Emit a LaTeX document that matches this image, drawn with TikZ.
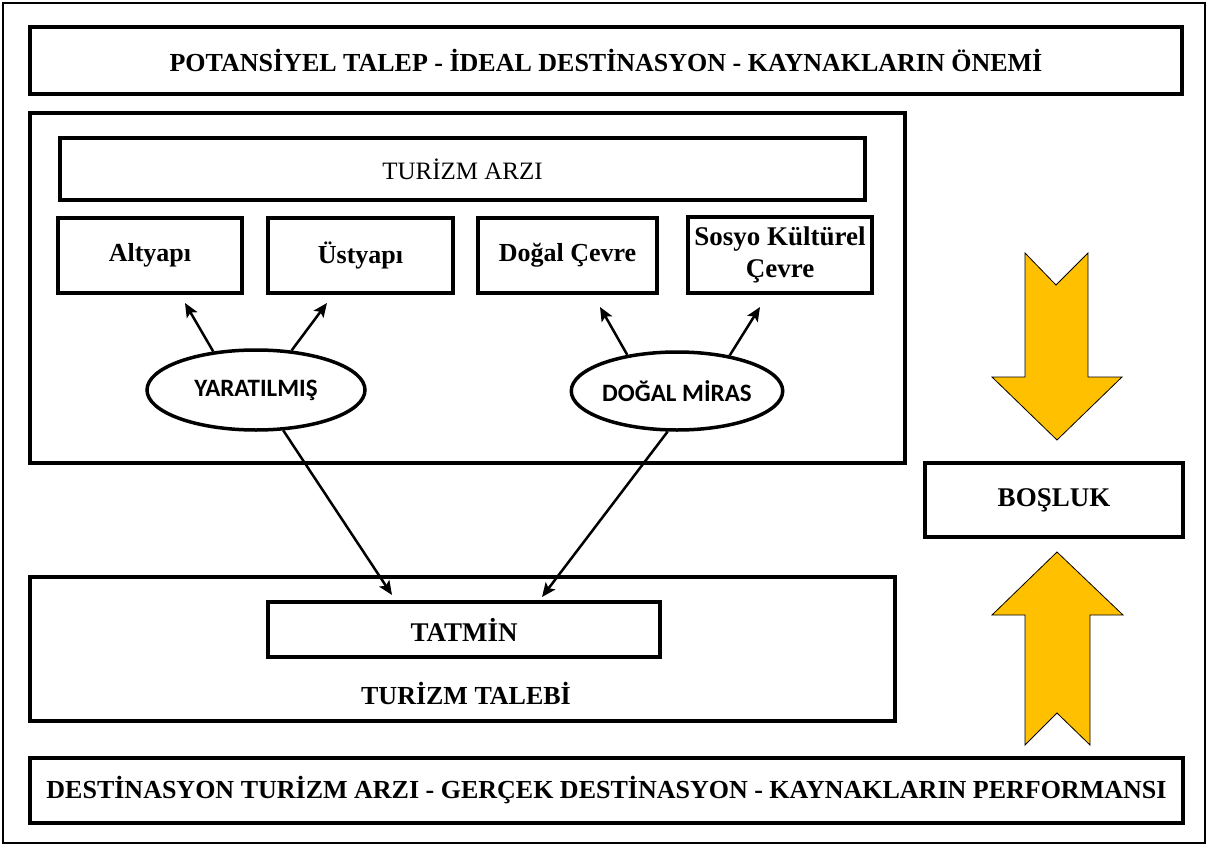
\documentclass[tikz,border=0pt]{standalone}
\usepackage{fontspec}
\setmainfont{Liberation Serif}
\newfontfamily\labelsans{Carlito}
\usetikzlibrary{arrows.meta,shapes.geometric}
\begin{document}
\begin{tikzpicture}[x=1pt,y=-1pt,
  frame/.style={draw=black,line width=1.5pt},
  box/.style={draw=black,line width=4pt,rectangle,inner sep=0pt,align=center},
  banner/.style={box,font=\fontsize{26}{30}\selectfont\bfseries},
  itembox/.style={box,font=\fontsize{26}{30}\selectfont\bfseries},
  oval/.style={draw=black,line width=3.5pt,ellipse,inner sep=0pt,
    font=\labelsans\fontsize{25}{28}\selectfont\bfseries},
  link/.style={line width=2.5pt,-{Stealth[length=14pt,width=12pt,inset=3pt]}},
  bigarrow/.style={fill={rgb,255:red,255;green,192;blue,0},draw=black,line width=0.8pt}]

% page and outer frame
\useasboundingbox (0,0) rectangle (1208,846);
\draw[frame] (3,3) rectangle (1205,843);

% headline banners
\node[banner,minimum width=1152pt,minimum height=67pt] (top) at (606,60.5)
  {POTANS\.IYEL TALEP - \.IDEAL DEST\.INASYON - KAYNAKLARIN \"ONEM\.I};
\node[banner,minimum width=1153pt,minimum height=65pt] (bottom) at (606.5,790.5)
  {DEST\.INASYON TUR\.IZM ARZI - GER\c{C}EK DEST\.INASYON - KAYNAKLARIN PERFORMANSI};

% supply block
\node[box,minimum width=875pt,minimum height=350pt] (supply) at (467.5,288) {};
\node[box,minimum width=805pt,minimum height=62pt,font=\fontsize{25}{29}\selectfont] (arzi) at (462.5,169) {TUR\.IZM ARZI};
\node[itembox,minimum width=184pt,minimum height=75pt] (altyapi) at (150,255.5) {Altyap\i};
\node[itembox,minimum width=185pt,minimum height=75pt] (ustyapi) at (360.5,255.5) {\"Ustyap\i};
\node[itembox,minimum width=179pt,minimum height=75pt] (dogal) at (567.5,255.5) {Do\u{g}al \c{C}evre};
\node[itembox,minimum width=184pt,minimum height=76pt,font=\fontsize{27}{32}\selectfont\bfseries] (sosyo) at (780,255) {Sosyo K\"ult\"urel\\\c{C}evre};

\node[oval,minimum width=218pt,minimum height=80pt] (yarat) at (256,390) {YARATILMI\c{S}};
\node[oval,minimum width=210pt,minimum height=78pt] (miras) at (677,391) {DO\u{G}AL M\.IRAS};

% demand block
\node[box,minimum width=865pt,minimum height=144pt] (demand) at (462.5,649) {};
\node[itembox,minimum width=392pt,minimum height=55pt,font=\fontsize{27}{31}\selectfont\bfseries] (tatmin) at (464,629.5) {TATM\.IN};
\node[font=\fontsize{26}{30}\selectfont\bfseries] (talebi) at (466,693) {TUR\.IZM TALEB\.I};

% gap
\node[itembox,minimum width=258pt,minimum height=74pt,font=\fontsize{27}{31}\selectfont\bfseries] (bosluk) at (1054,500) {BO\c{S}LUK};

% arrow tips
\coordinate (t1) at (185,303);
\coordinate (t2) at (327,303);
\coordinate (t3) at (600,307);
\coordinate (t4) at (760,307);
\coordinate (t5) at (392,595);
\coordinate (t6) at (542,597);

\draw[link] (yarat.138) -- (t1);
\draw[link] (yarat.48) -- (t2);
\draw[link] (miras.144) -- (t3);
\draw[link] (miras.34) -- (t4);
\draw[link] (yarat.304) -- (t5);
\draw[link] (miras.257) -- (t6);

% block arrows towards the gap
\draw[bigarrow] (1025,253) -- (1056,285) -- (1088,253) -- (1088,377) -- (1122,377)
  -- (1057,440) -- (992,377) -- (1025,377) -- cycle;
\draw[bigarrow] (1025,745) -- (1057,713) -- (1090,745) -- (1090,615) -- (1123,615)
  -- (1057,552) -- (992,615) -- (1025,615) -- cycle;
\end{tikzpicture}
\end{document}
